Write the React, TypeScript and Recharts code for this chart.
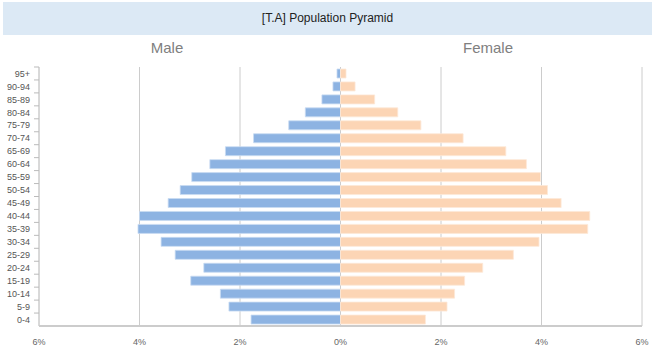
import React from "react";
import { BarChart, Bar, XAxis, YAxis, CartesianGrid } from "recharts";

const ageGroups = ["95+", "90-94", "85-89", "80-84", "75-79", "70-74", "65-69", "60-64", "55-59", "50-54", "45-49", "40-44", "35-39", "30-34", "25-29", "20-24", "15-19", "10-14", "5-9", "0-4"];
const maleShare = [0.07, 0.15, 0.37, 0.7, 1.03, 1.73, 2.29, 2.6, 2.96, 3.19, 3.43, 4.0, 4.03, 3.57, 3.29, 2.72, 2.98, 2.39, 2.22, 1.78];
const femaleShare = [0.11, 0.29, 0.68, 1.14, 1.6, 2.44, 3.29, 3.7, 3.98, 4.12, 4.39, 4.96, 4.92, 3.95, 3.44, 2.83, 2.47, 2.27, 2.12, 1.69];
const xTicks = [-6, -4, -2, 0, 2, 4, 6];
const title = "[T.A] Population Pyramid";
const leftLabel = "Male";
const rightLabel = "Female";

const data = ageGroups.map((age, i) => ({ age, male: -maleShare[i], female: femaleShare[i] }));

const FONT = "'Liberation Sans', Arial, sans-serif";
const TOP = 67;
const BOTTOM = 326;
const AXIS_X = 39;
const BAND = (BOTTOM - TOP) / ageGroups.length;

const YTick = (props: any) => {
  const { y, payload } = props;
  return (
    <g>
      <line x1={AXIS_X - 5} x2={AXIS_X} y1={y - BAND / 2} y2={y - BAND / 2} stroke="#bbb" strokeWidth={1} />
      <text x={AXIS_X - 9} y={y} dy={3.2} textAnchor="end" fontSize={9} fill="#555" fontFamily={FONT}>
        {payload.value}
      </text>
    </g>
  );
};

const XTick = (props: any) => {
  const { x, payload } = props;
  return (
    <text x={x} y={345} textAnchor="middle" fontSize={9} fill="#666" fontFamily={FONT}>
      {Math.abs(payload.value) + "%"}
    </text>
  );
};

export default function App() {
  return (
    <div style={{ position: "absolute", left: 0, top: 0, width: 654, height: 361, background: "#fff", fontFamily: FONT }}>
      <div
        style={{
          position: "absolute",
          left: 3,
          top: 2,
          width: 649,
          height: 33,
          background: "#dce9f5",
          textAlign: "center",
          lineHeight: "33px",
          fontSize: 12,
          color: "#222",
        }}
      >
        {title}
      </div>
      <div style={{ position: "absolute", left: 117, width: 100, top: 39, textAlign: "center", fontSize: 15, color: "#808080" }}>{leftLabel}</div>
      <div style={{ position: "absolute", left: 438, width: 100, top: 39, textAlign: "center", fontSize: 15, color: "#808080" }}>{rightLabel}</div>
      <div style={{ position: "absolute", left: 0, top: 0 }}>
        <BarChart
          width={654}
          height={361}
          data={data}
          layout="vertical"
          stackOffset="sign"
          margin={{ top: TOP, right: 12, bottom: 10, left: 0 }}
        >
          <CartesianGrid horizontal={false} vertical={true} stroke="#ccc" />
          <XAxis
            type="number"
            domain={[-6, 6]}
            ticks={xTicks}
            height={25}
            axisLine={{ stroke: "#ccc", strokeWidth: 2 }}
            tickLine={false}
            tick={<XTick />}
            interval={0}
          />
          <YAxis
            type="category"
            dataKey="age"
            width={AXIS_X}
            axisLine={{ stroke: "#ccc" }}
            tickLine={false}
            tickSize={0}
            tickMargin={0}
            tick={<YTick />}
            interval={0}
          />
          <Bar dataKey="male" stackId="a" fill="#8db3e2" stroke="#c9dcf2" strokeWidth={0.8} barSize={9} isAnimationActive={false} />
          <Bar dataKey="female" stackId="a" fill="#fcd5b5" stroke="#fde8d8" strokeWidth={0.8} barSize={9} isAnimationActive={false} />
        </BarChart>
      </div>
    </div>
  );
}
